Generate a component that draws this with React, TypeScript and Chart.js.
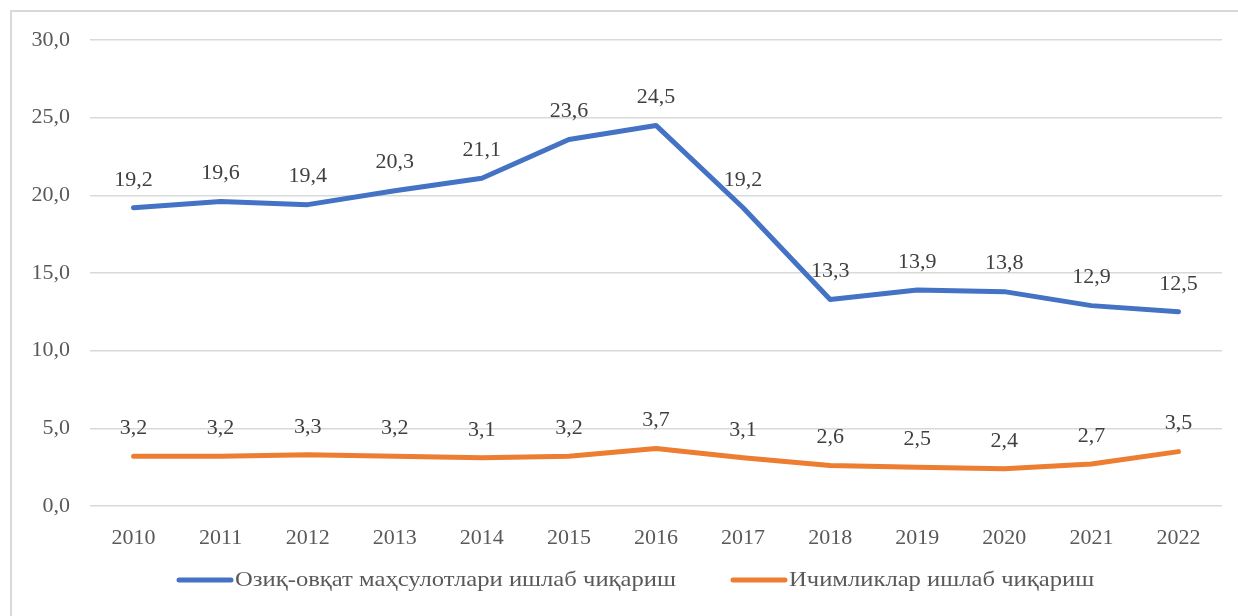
import React, { useEffect, useRef } from "react";
import { Chart, registerables } from "chart.js";

Chart.register(...registerables);

const years = ["2010", "2011", "2012", "2013", "2014", "2015", "2016", "2017", "2018", "2019", "2020", "2021", "2022"];
const foodValues = [19.2, 19.6, 19.4, 20.3, 21.1, 23.6, 24.5, 19.2, 13.3, 13.9, 13.8, 12.9, 12.5];
const drinkValues = [3.2, 3.2, 3.3, 3.2, 3.1, 3.2, 3.7, 3.1, 2.6, 2.5, 2.4, 2.7, 3.5];
const seriesNames = ["Озиқ-овқат маҳсулотлари ишлаб чиқариш", "Ичимликлар ишлаб чиқариш"];
const seriesColors = ["#4472C4", "#ED7D31"];

const FONT = "'Liberation Serif', 'Times New Roman', serif";
const FONT_SIZE = 22;
const fmt = (v: number) => v.toFixed(1).replace(".", ",");

const labelPlugin = {
  id: "valueLabels",
  afterDatasetsDraw(chart: any) {
    const ctx = chart.ctx;
    ctx.save();
    ctx.font = `${FONT_SIZE}px ${FONT}`;
    ctx.fillStyle = "#404040";
    ctx.textAlign = "center";
    ctx.textBaseline = "middle";
    chart.data.datasets.forEach((ds: any, i: number) => {
      const meta = chart.getDatasetMeta(i);
      meta.data.forEach((pt: any, j: number) => {
        ctx.fillText(fmt(ds.data[j]), pt.x, pt.y - 28);
      });
    });
    ctx.restore();
  },
};

const legendPlugin = {
  id: "customLegend",
  afterDraw(chart: any) {
    const ctx = chart.ctx;
    ctx.save();
    ctx.font = `${FONT_SIZE}px ${FONT}`;
    ctx.textBaseline = "middle";
    ctx.textAlign = "left";
    const y = 580;
    const stretch = 1.12;
    let x = 177;
    chart.data.datasets.forEach((ds: any) => {
      ctx.strokeStyle = ds.borderColor;
      ctx.lineWidth = 5;
      ctx.lineCap = "round";
      ctx.beginPath();
      ctx.moveTo(x + 2, y);
      ctx.lineTo(x + 54, y);
      ctx.stroke();
      x += 58;
      ctx.fillStyle = "#595959";
      ctx.save();
      ctx.translate(x, y);
      ctx.scale(stretch, 1);
      ctx.fillText(ds.label, 0, 0);
      ctx.restore();
      x += ctx.measureText(ds.label).width * stretch + 55;
    });
    ctx.restore();
  },
};

export default function App() {
  const ref = useRef<HTMLCanvasElement>(null);
  useEffect(() => {
    if (!ref.current) return;
    const chart = new Chart(ref.current, {
      type: "line",
      data: {
        labels: years,
        datasets: [
          {
            label: seriesNames[0],
            data: foodValues,
            borderColor: seriesColors[0],
            backgroundColor: seriesColors[0],
            borderWidth: 5,
            pointRadius: 0,
            tension: 0,
            borderCapStyle: "round",
            borderJoinStyle: "round",
          },
          {
            label: seriesNames[1],
            data: drinkValues,
            borderColor: seriesColors[1],
            backgroundColor: seriesColors[1],
            borderWidth: 5,
            pointRadius: 0,
            tension: 0,
            borderCapStyle: "round",
            borderJoinStyle: "round",
          },
        ],
      },
      options: {
        animation: false,
        responsive: false,
        layout: { padding: { left: 0, right: 16, top: 40, bottom: 0 } },
        plugins: {
          legend: { display: false },
          tooltip: { enabled: false },
        },
        scales: {
          x: {
            offset: true,
            grid: { display: false },
            border: { display: false },
            ticks: {
              color: "#595959",
              font: { family: FONT, size: FONT_SIZE },
              padding: 11,
              maxRotation: 0,
            },
            afterFit(scale: any) {
              scale.height = 110;
            },
          },
          y: {
            min: 0,
            max: 30,
            grid: { color: "#D9D9D9", lineWidth: 1.5, drawTicks: false },
            border: { display: false },
            ticks: {
              stepSize: 5,
              color: "#595959",
              font: { family: FONT, size: FONT_SIZE },
              padding: 20,
              callback: (v: any) => fmt(Number(v)),
            },
            afterFit(scale: any) {
              scale.width = 90;
            },
          },
        },
      },
      plugins: [labelPlugin, legendPlugin],
    });
    return () => chart.destroy();
  }, []);

  return (
    <div style={{ position: "fixed", left: 0, top: 0, width: 1238, height: 616, background: "#fff" }}>
      <div
        style={{
          position: "absolute",
          left: 10,
          top: 10,
          right: 0,
          bottom: 0,
          borderLeft: "2px solid #D9D9D9",
          borderTop: "2px solid #D9D9D9",
        }}
      />
      <canvas ref={ref} width={1238} height={616} style={{ position: "absolute", left: 0, top: 0 }} />
    </div>
  );
}
